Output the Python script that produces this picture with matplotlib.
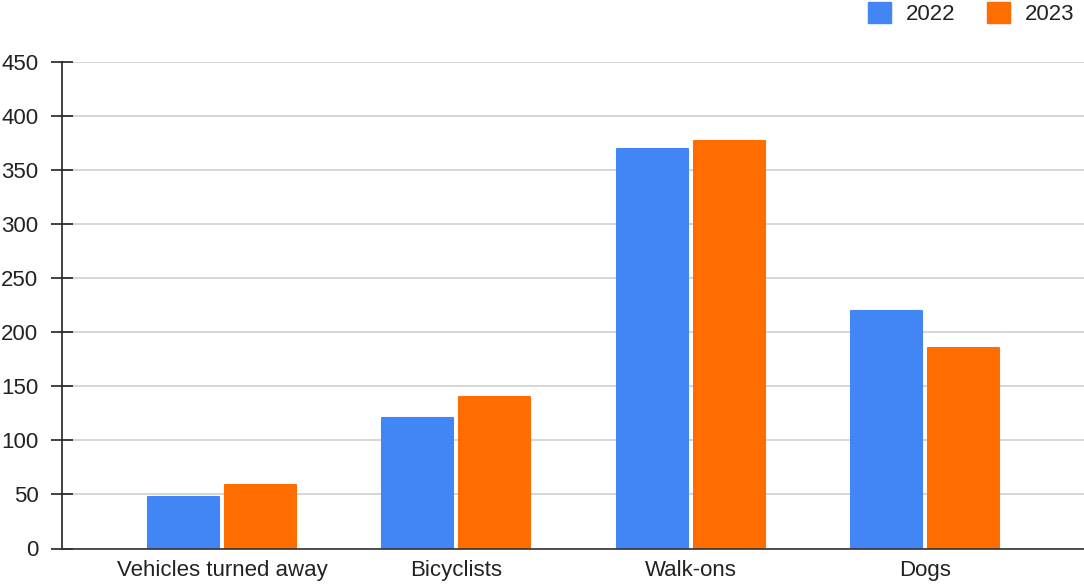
import numpy as np
import matplotlib
matplotlib.use("Agg")
import matplotlib.pyplot as plt
from matplotlib.patches import Patch

plt.rcParams['font.family'] = ['Liberation Sans', 'DejaVu Sans']

# data
categories = ["Vehicles turned away", "Bicyclists", "Walk-ons", "Dogs"]
years = ["2022", "2023"]
values_2022 = [48, 121, 369, 219]
values_2023 = [59, 140, 377, 185]
colors = ["#4285F4", "#FF6D01"]

fig = plt.figure(figsize=(10.84, 5.84), dpi=100)
ax = fig.add_axes([62 / 1084, 35.5 / 584, 1 - 62 / 1084, (548.5 - 61.5) / 584])

x = np.arange(len(categories))
offset = 0.164
lw = 1.5
width = 0.3116 - (lw / 72 * 100) / 234.3

for vals, c, sign in [(values_2022, colors[0], -1), (values_2023, colors[1], 1)]:
    ax.bar(x + sign * offset, vals, width=width, color=c, edgecolor=c,
           linewidth=lw, joinstyle='round', zorder=3)

ax.set_xlim(-0.683, 3.679)
ax.set_ylim(0, 450)
ax.set_yticks(np.arange(0, 451, 50))
ax.set_xticks(x)
ax.set_xticklabels(categories, fontsize=16, color='#222222')
ax.tick_params(axis='x', length=0, pad=8)
ax.tick_params(axis='y', direction='inout', length=16, width=1.2,
               labelsize=16, labelcolor='#222222', pad=9, color='#222222')

ax.grid(axis='y', color='#d0d0d0', linewidth=1.2, zorder=0)
ax.set_axisbelow(True)
for s in ['top', 'right']:
    ax.spines[s].set_visible(False)
ax.spines['left'].set_color('#222222')
ax.spines['left'].set_linewidth(1.2)
ax.spines['left'].set_zorder(4)
ax.spines['bottom'].set_color('#333333')
ax.spines['bottom'].set_linewidth(1.2)
ax.spines['bottom'].set_zorder(4)

handles = [Patch(facecolor=c, edgecolor=c, label=y) for c, y in zip(colors, years)]
fig.legend(handles=handles, loc='upper right', bbox_to_anchor=(1077 / 1084, 1.0), ncol=2,
           frameon=False, fontsize=16, handlelength=1.03, handleheight=1.03,
           handletextpad=0.68, columnspacing=1.44, labelcolor='#222222',
           borderpad=0.1, borderaxespad=0)

fig.savefig("out.png", dpi=100)
